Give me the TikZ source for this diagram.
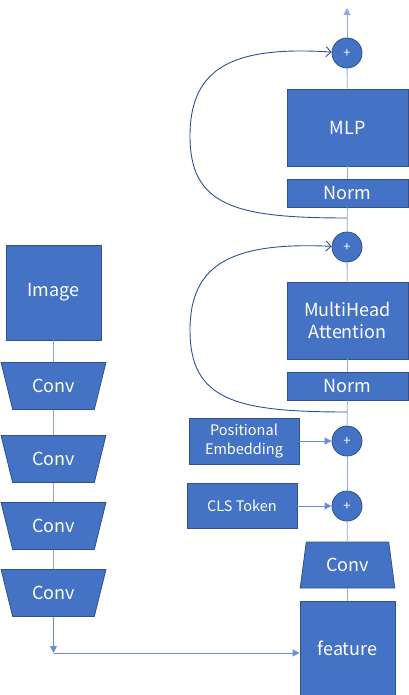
\documentclass[tikz,border=0pt]{standalone}
\usepackage{fontspec}
\setmainfont{Noto Sans CJK KR}
\usetikzlibrary{arrows.meta,shapes.geometric}
\definecolor{boxfill}{HTML}{4472C4}
\definecolor{boxline}{HTML}{2F528F}
\definecolor{flowline}{HTML}{8FAADC}
\definecolor{feedline}{HTML}{6A8FD8}
\begin{document}
\begin{tikzpicture}[x=1pt, y=-1pt,
	blk/.style={draw=boxline, fill=boxfill, line width=0.8pt, text=white, font=\fontsize{18}{22}\selectfont, align=center, inner sep=0pt},
	dconv/.style={blk, trapezium, trapezium stretches=true, shape border rotate=180, trapezium angle=66, minimum width=105, minimum height=47},
	uconv/.style={blk, trapezium, trapezium stretches=true, trapezium angle=77, minimum width=95, minimum height=46},
	addc/.style={blk, circle, minimum size=30, font=\fontsize{13}{13}\selectfont},
	small/.style={blk, font=\fontsize{14.5}{19}\selectfont},
	flow/.style={draw=flowline, line width=0.8pt},
	feed/.style={draw=feedline, line width=0.8pt, -{Triangle[length=7pt,width=7pt]}},
	skip/.style={draw=boxline, line width=0.9pt, -{Straight Barb[length=5pt,width=10pt]}}]
	\useasboundingbox (0,0) rectangle (408,695);
	\node[blk, minimum width=95, minimum height=95] (img) at (53.5,292.5) {Image};
	\node[dconv] (conva) at (53.5,386) {Conv};
	\node[dconv] (convb) at (53.5,459) {Conv};
	\node[dconv] (convc) at (53.5,526) {Conv};
	\node[dconv] (convd) at (53.5,593) {Conv};
	\coordinate (bend) at (53.5,653);
	\node[blk, minimum width=95, minimum height=94] (feat) at (347.5,648) {feature};
	\node[uconv] (convr) at (347.5,565) {Conv};
	\node[addc] (pcls) at (347,506) {+};
	\node[small, minimum width=110, minimum height=45] (cls) at (242,506) {CLS Token};
	\node[addc] (ppos) at (347,441) {+};
	\node[small, minimum width=110, minimum height=46] (pos) at (244,441) {Positional\\Embedding};
	\node[blk, minimum width=121, minimum height=28] (norma) at (347.5,386) {Norm};
	\node[blk, minimum width=121, minimum height=77] (mha) at (347.5,320.5) {MultiHead\\Attention};
	\node[addc] (pmha) at (347,247) {+};
	\node[blk, minimum width=121, minimum height=28] (normb) at (347.5,193) {Norm};
	\node[blk, minimum width=121, minimum height=77] (mlp) at (347.5,127.5) {MLP};
	\node[addc] (pmlp) at (347,53) {+};
	\coordinate (out) at (347,8);
	\coordinate (resa) at (347,412);
	\coordinate (resb) at (347,218);
	\draw[flow] (img) -- (conva);
	\draw[flow] (conva) -- (convb);
	\draw[flow] (convb) -- (convc);
	\draw[flow] (convc) -- (convd);
	\draw[feed] (convd) -- (bend);
	\draw[feed] (bend) -- (feat.west |- bend);
	\draw[flow] (feat) -- (convr);
	\draw[flow] (convr) -- (pcls);
	\draw[flow] (pcls) -- (ppos);
	\draw[flow] (ppos) -- (norma);
	\draw[flow] (norma) -- (mha);
	\draw[flow] (mha) -- (pmha);
	\draw[flow] (pmha) -- (normb);
	\draw[flow] (normb) -- (mlp);
	\draw[flow] (mlp) -- (pmlp);
	\draw[flow, -{Triangle[length=7pt,width=7pt]}] (pmlp) -- (out);
	\draw[feed] (cls) -- (pcls);
	\draw[feed] (pos) -- (ppos);
	\draw[skip] (resa) .. controls (235,412) and (190,400) .. (190,330) .. controls (190,262) and (235,242) .. (pmha);
	\draw[skip] (resb) .. controls (235,218) and (190,206) .. (190,136) .. controls (190,66) and (235,46) .. (pmlp);
\end{tikzpicture}
\end{document}
